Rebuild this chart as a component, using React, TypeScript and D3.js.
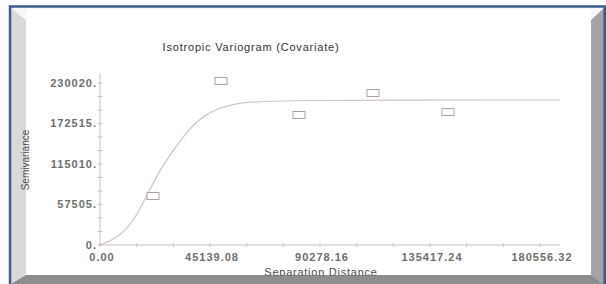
import React from 'react';
import * as d3 from 'd3';

// chart texts
const title = 'Isotropic Variogram (Covariate)';
const xTitle = 'Separation Distance';
const yTitle = 'Semivariance';

// axis ticks
const xTickValues = [0, 45139.08, 90278.16, 135417.24, 180556.32];
const xTickLabels = ['0.00', '45139.08', '90278.16', '135417.24', '180556.32'];
const yTickValues = [0, 57505, 115010, 172515, 230020];
const yTickLabels = ['0.', '57505.', '115010.', '172515.', '230020.'];

// empirical variogram (squares)
const lagDist = [21750, 49650, 81660, 112030, 142800];
const semivar = [69600, 232900, 184600, 215800, 188800];

// fitted model curve
const modelDist = [0, 6150, 11490, 15590, 19700, 24620, 29550, 34880, 40220, 46370, 56220, 68530, 188760];
const modelGamma = [0, 8500, 24100, 45400, 73800, 106500, 132000, 157000, 177500, 191700, 201600, 205900, 205900];

const xAxisMax = 188760;
const yAxisMax = 244200;

const W = 606;
const H = 284;

export default function App() {
  const x = d3.scaleLinear().domain([0, 180556.32]).range([100, 540]);
  const y = d3.scaleLinear().domain([0, 230020]).range([245, 83]);

  // minor ticks: two between each pair of major ticks
  const xStep = xTickValues[1] - xTickValues[0];
  const xMinor = d3.range(0, xAxisMax, xStep / 3);
  const yStep = yTickValues[1] - yTickValues[0];
  const yMinor = d3.range(0, yAxisMax, yStep / 3);

  const model = modelDist.map((d, i) => [d, modelGamma[i]] as [number, number]);
  const line = d3.line<[number, number]>()
    .x(d => x(d[0]))
    .y(d => y(d[1]))
    .curve(d3.curveBasis);

  const axisColor = '#cdbfbf';
  const font = 'Arial, "Liberation Sans", sans-serif';

  return (
    <svg width={W} height={H} style={{ position: 'absolute', left: 0, top: 0 }}>
      <rect x={0} y={0} width={W} height={H} fill="#ffffff" />

      {/* frame */}
      <polygon points="11,8 604,8 591,18 26,18" fill="#f6f6f6" />
      <polygon points="11,8 26,20 26,275 11,284" fill="#d9d9d9" />
      <polygon points="604,8 591,20 591,275 604,284" fill="#a4a4a4" />
      <rect x={603} y={8} width={3} height={276} fill="#7c7c7c" />
      <polygon points="11,284 26,275 591,275 604,284" fill="#8e8e8e" />
      <path d="M10,284 L10,6.5 L605,6.5 L605,284" fill="none" stroke="#3d5b8c" strokeWidth={2.5} />
      <rect x={26} y={9} width={565} height={9} fill="#ffffff" />

      {/* title */}
      <text x={251} y={51} textAnchor="middle" fontFamily={font} fontSize={11}
        letterSpacing={0.8} fill="#333333">{title}</text>

      {/* axes */}
      <line x1={x(0)} x2={x(xAxisMax)} y1={y(0)} y2={y(0)} stroke={axisColor} strokeWidth={1} />
      <line x1={x(0)} x2={x(0)} y1={y(0)} y2={y(yAxisMax)} stroke={axisColor} strokeWidth={1} />
      {xMinor.map((v, i) => (
        <line key={'xm' + i} x1={x(v)} x2={x(v)} y1={y(0) - 2} y2={y(0) + 2} stroke={axisColor} />
      ))}
      {yMinor.map((v, i) => (
        <line key={'ym' + i} x1={x(0) - 2.5} x2={x(0) + 2.5} y1={y(v)} y2={y(v)} stroke={axisColor} />
      ))}

      {xTickValues.map((v, i) => (
        <text key={'xt' + i} x={x(v) + 2} y={261} textAnchor="middle" fontFamily={font}
          fontSize={11} fontWeight="bold" letterSpacing={1} fill="#6e6e6e">{xTickLabels[i]}</text>
      ))}
      {yTickValues.map((v, i) => (
        <text key={'yt' + i} x={97} y={y(v)} dy="0.35em" textAnchor="end" fontFamily={font}
          fontSize={11} fontWeight="bold" letterSpacing={1} fill="#6e6e6e">{yTickLabels[i]}</text>
      ))}

      {/* model curve */}
      <path d={line(model) || ''} fill="none" stroke="#d2c2c2" strokeWidth={1.2} />

      {/* empirical points */}
      {lagDist.map((d, i) => (
        <rect key={'p' + i} x={x(d) - 6} y={y(semivar[i]) - 3.5} width={12} height={7}
          fill="#ffffff" stroke="#aaa2a2" strokeWidth={1} />
      ))}

      {/* axis titles */}
      <text x={321} y={276} textAnchor="middle" fontFamily={font} fontSize={11}
        letterSpacing={0.75} fill="#4a4a4a">{xTitle}</text>
      <text transform="translate(29,160) rotate(-90)" textAnchor="middle" fontFamily={font}
        fontSize={10} fill="#4a4a4a">{yTitle}</text>

      {/* bottom bevel drawn over the x title, as in the picture */}
      <polygon points="11,284 26,275.5 591,275.5 604,284" fill="#8e8e8e" opacity={0.85} />
    </svg>
  );
}
